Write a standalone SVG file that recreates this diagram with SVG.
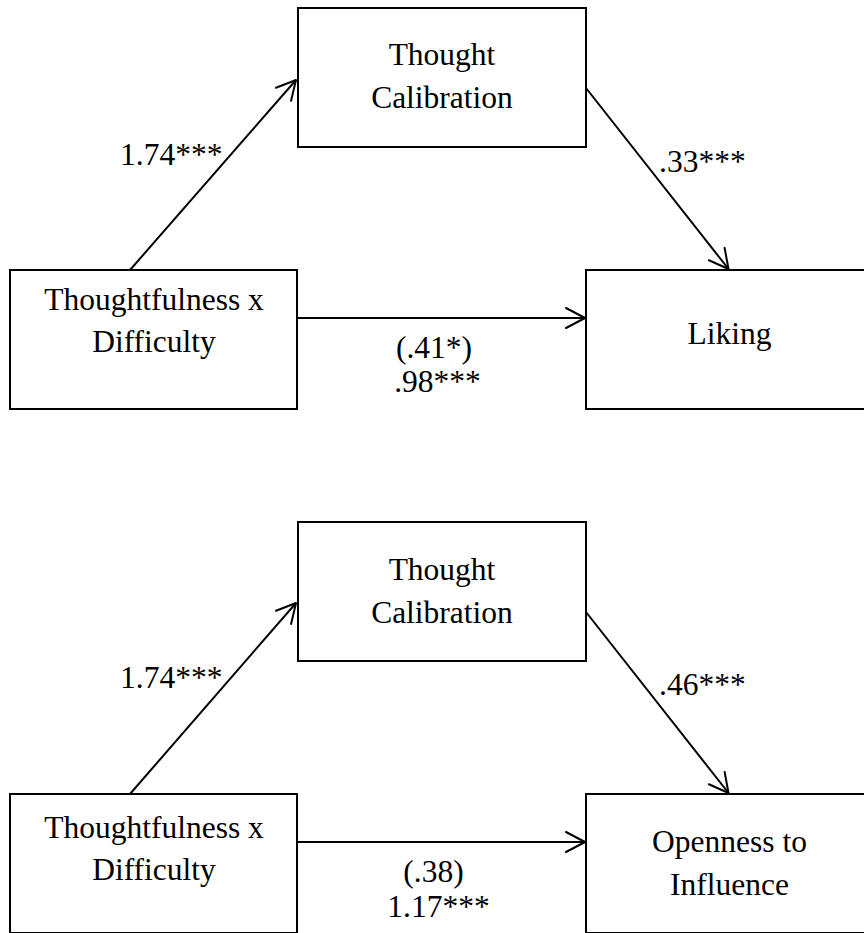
<svg xmlns="http://www.w3.org/2000/svg" width="864" height="933" viewBox="0 0 864 933">
<style>
.box{fill:#fff;stroke:#000;stroke-width:2}
.t{font-family:"Liberation Serif","Times New Roman",serif;font-size:31.5px;fill:#000}
.m{text-anchor:middle}
.c{stroke:#000;stroke-width:2;fill:none;marker-end:url(#ah)}
</style>
<defs>
<marker id="ah" markerUnits="userSpaceOnUse" markerWidth="26" markerHeight="26" viewBox="-23 -13 26 26" refX="0" refY="0" orient="auto">
<path d="M-19,-10 L0,0 L-19,10" fill="none" stroke="#000" stroke-width="2" stroke-linejoin="round" stroke-linecap="round"/>
</marker>
</defs>
<rect width="864" height="933" fill="#fff"/>

<!-- Top model -->
<g id="top-mediator">
<rect class="box" x="298" y="8" width="288" height="139"/>
<text class="t m" x="442" y="65">Thought</text>
<text class="t m" x="442" y="108">Calibration</text>
</g>
<g id="top-predictor">
<rect class="box" x="10" y="270" width="287" height="139"/>
<text class="t m" x="154" y="310">Thoughtfulness x</text>
<text class="t m" x="154" y="352">Difficulty</text>
</g>
<g id="top-outcome">
<rect class="box" x="586" y="270" width="287" height="139"/>
<text class="t m" x="729.5" y="344">Liking</text>
</g>
<g id="top-connectors">
<line class="c" x1="130" y1="270" x2="296" y2="80"/>
<line class="c" x1="586" y1="88" x2="728.5" y2="269"/>
<line class="c" x1="297" y1="318" x2="585" y2="318"/>
<text class="t" x="120" y="165">1.74***</text>
<text class="t" x="659" y="172">.33***</text>
<text class="t m" x="434" y="358">(.41*)</text>
<text class="t m" x="437.5" y="392">.98***</text>
</g>

<!-- Bottom model -->
<g id="bottom-mediator">
<rect class="box" x="298" y="522" width="288" height="139"/>
<text class="t m" x="442" y="580">Thought</text>
<text class="t m" x="442" y="623">Calibration</text>
</g>
<g id="bottom-predictor">
<rect class="box" x="10" y="794" width="287" height="139"/>
<text class="t m" x="154" y="838">Thoughtfulness x</text>
<text class="t m" x="154" y="880">Difficulty</text>
</g>
<g id="bottom-outcome">
<rect class="box" x="586" y="794" width="287" height="139"/>
<text class="t m" x="729.5" y="852">Openness to</text>
<text class="t m" x="729.5" y="895">Influence</text>
</g>
<g id="bottom-connectors">
<line class="c" x1="130" y1="794" x2="296" y2="603"/>
<line class="c" x1="586" y1="612" x2="728.5" y2="793"/>
<line class="c" x1="297" y1="842" x2="585" y2="842"/>
<text class="t" x="120" y="688">1.74***</text>
<text class="t" x="659" y="695">.46***</text>
<text class="t m" x="433.5" y="882">(.38)</text>
<text class="t m" x="438.5" y="917">1.17***</text>
</g>
</svg>
